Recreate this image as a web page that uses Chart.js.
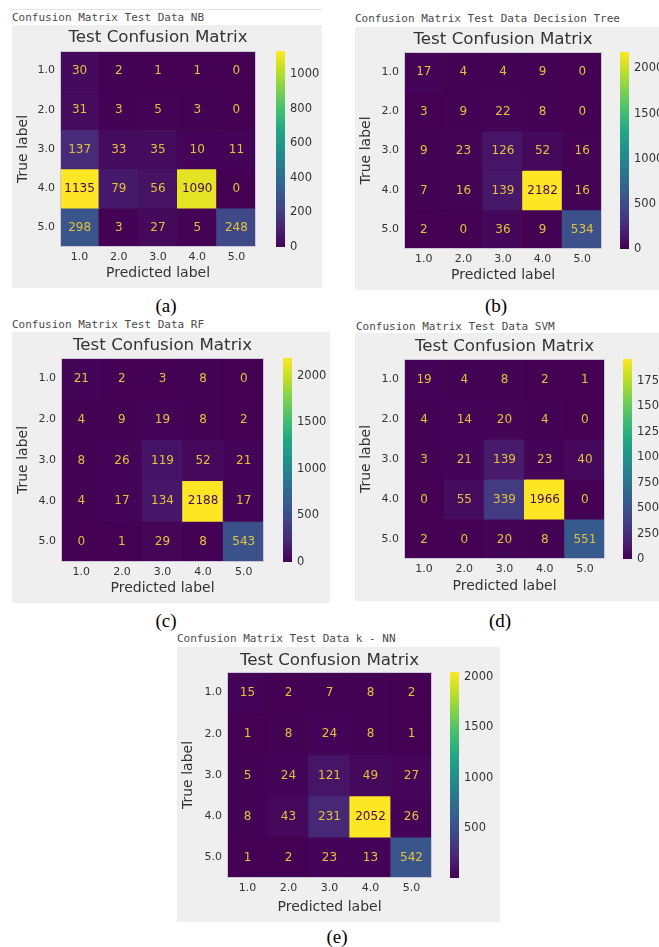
<!DOCTYPE html>
<html><head><meta charset="utf-8">
<script src="https://cdn.jsdelivr.net/npm/chart.js@4.4.1/dist/chart.umd.min.js"></script>
<style>
html,body{margin:0;padding:0;background:#fff;}
body{width:659px;height:947px;position:relative;overflow:hidden;}
.box{position:absolute;background:#efefef;}
.cap{position:absolute;font:11px "DejaVu Sans Mono",monospace;color:#4a4a4a;white-space:nowrap;line-height:13px;}
.sub{position:absolute;font:19px "Liberation Serif","Times New Roman",serif;color:#000;transform:translateX(-50%);line-height:20px;white-space:nowrap;}
.rule{position:absolute;height:1px;background:#e4e4e4;}
canvas{position:absolute;}
</style></head><body>
<script>
// ---------- data ----------
const predictedLabels = ['1.0','2.0','3.0','4.0','5.0'];
const trueLabels = ['1.0','2.0','3.0','4.0','5.0'];

const nbMatrix  = [[30,2,1,1,0],[31,3,5,3,0],[137,33,35,10,11],[1135,79,56,1090,0],[298,3,27,5,248]];
const dtMatrix  = [[17,4,4,9,0],[3,9,22,8,0],[9,23,126,52,16],[7,16,139,2182,16],[2,0,36,9,534]];
const rfMatrix  = [[21,2,3,8,0],[4,9,19,8,2],[8,26,119,52,21],[4,17,134,2188,17],[0,1,29,8,543]];
const svmMatrix = [[19,4,8,2,1],[4,14,20,4,0],[3,21,139,23,40],[0,55,339,1966,0],[2,0,20,8,551]];
const knnMatrix = [[15,2,7,8,2],[1,8,24,8,1],[5,24,121,49,27],[8,43,231,2052,26],[1,2,23,13,542]];

const nbTicks  = [0,200,400,600,800,1000];
const dtTicks  = [0,500,1000,1500,2000];
const rfTicks  = [0,500,1000,1500,2000];
const svmTicks = [0,250,500,750,1000,1250,1500,1750];
const knnTicks = [500,1000,1500,2000];

const captions = ['Confusion Matrix Test Data NB','Confusion Matrix Test Data Decision Tree','Confusion Matrix Test Data RF','Confusion Matrix Test Data SVM','Confusion Matrix Test Data k - NN'];
const subLabels = ['(a)','(b)','(c)','(d)','(e)'];
const chartTitle = 'Test Confusion Matrix';
const xTitle = 'Predicted label';
const yTitle = 'True label';

// ---------- layout (positions only) ----------
const layouts = [
 {box:[12,25,310,263], heat:[60,51,196,196], cbar:[276,51,9,196], titleY:38, cap:[12,17], sub:[166,306]},
 {box:[355,27,304,263], heat:[404,52,198,197], cbar:[620,52,9,197], titleY:40, cap:[355,18], sub:[496,306]},
 {box:[12,332,318,271], heat:[61,358,203,204], cbar:[283,358,9,204], titleY:346, cap:[12,324], sub:[166,621]},
 {box:[355,333,304,268], heat:[404,359,201,200], cbar:[623,359,9,200], titleY:347, cap:[356,326], sub:[500,621]},
 {box:[177,647,323,275], heat:[227,672,205,206], cbar:[450,672,9,206], titleY:661, cap:[177,638], sub:[337,937]}
];
const panels = [
 {m:nbMatrix, t:nbTicks}, {m:dtMatrix, t:dtTicks}, {m:rfMatrix, t:rfTicks}, {m:svmMatrix, t:svmTicks}, {m:knnMatrix, t:knnTicks}
];

// ---------- colormap ----------
const VIRIDIS = ['#440154','#482475','#414487','#355f8d','#2a788e','#21918c','#22a884','#44bf70','#7ad151','#bddf26','#fde725'];
function hex2rgb(h){return [parseInt(h.slice(1,3),16),parseInt(h.slice(3,5),16),parseInt(h.slice(5,7),16)];}
function viridis(t){
  t = Math.max(0, Math.min(1, t));
  const s = t*10, i = Math.min(9, Math.floor(s)), f = s - i;
  const a = hex2rgb(VIRIDIS[i]), b = hex2rgb(VIRIDIS[i+1]);
  return 'rgb(' + a.map((c,k)=>Math.round(c + (b[k]-c)*f)).join(',') + ')';
}

const TXT = '#333333';
const SANS = '"DejaVu Sans", sans-serif';
const LOW_TXT = '#e2c23a', HIGH_TXT = '#46085c';

function addDiv(cls, text, x, y, w){
  const d = document.createElement('div'); d.className = cls;
  if (text !== null) d.textContent = text;
  d.style.left = x + 'px'; d.style.top = y + 'px';
  if (w) d.style.width = w + 'px';
  document.body.appendChild(d); return d;
}
function addCanvas(x, y, w, h){
  const c = document.createElement('canvas');
  c.width = w; c.height = h;
  c.style.left = x + 'px'; c.style.top = y + 'px';
  c.style.width = w + 'px'; c.style.height = h + 'px';
  document.body.appendChild(c); return c;
}

// top rule above first caption
addDiv('rule', null, 10, 9, 312);

layouts.forEach((L, p) => {
  const matrix = panels[p].m, cbTicks = panels[p].t;
  const [bx,by,bw,bh] = L.box, [hx,hy,hw,hh] = L.heat, [cx,cy,cw,ch] = L.cbar;
  const box = addDiv('box', null, bx, by, bw); box.style.height = bh + 'px';
  addDiv('cap', captions[p], L.cap[0], L.cap[1] - 6.5);
  addDiv('sub', subLabels[p], L.sub[0], L.sub[1] - 10);

  const flat = matrix.flat();
  const vmin = Math.min(...flat), vmax = Math.max(...flat);
  const thresh = (vmin + vmax) / 2;

  // ---- heatmap ----
  const W = hx + hw - bx, H = bh;
  const cv = addCanvas(bx, by, W, H);
  const titleSize = 16.7, titleLH = titleSize * 1.2;
  const tPadTop = L.titleY - by - titleLH/2;
  const tPadBot = (hy - by) - titleLH - tPadTop;
  const yW = hx - bx, xH = by + bh - (hy + hh);

  const datasets = matrix.map((row, r) => ({
    label: trueLabels[r],
    data: row.map(() => [r + 0.5, r + 1.5]),
    values: row,
    backgroundColor: row.map(v => viridis((v - vmin) / (vmax - vmin))),
    borderWidth: 0, barPercentage: 1, categoryPercentage: 1, inflateAmount: 0.6
  }));

  new Chart(cv, {
    type: 'bar',
    data: { labels: predictedLabels, datasets },
    options: {
      responsive: false, animation: false, devicePixelRatio: 1,
      layout: { padding: 0 },
      plugins: {
        legend: { display: false }, tooltip: { enabled: false },
        title: { display: true, text: chartTitle, fullSize: false, color: TXT,
                 font: { family: SANS, size: titleSize, weight: 'normal', lineHeight: 1.2 },
                 padding: { top: tPadTop, bottom: tPadBot } }
      },
      scales: {
        x: { type: 'category', stacked: true, offset: true,
             grid: { display: false, drawTicks: false }, border: { display: false },
             ticks: { color: TXT, font: { family: SANS, size: 11 }, padding: 4, maxRotation: 0 },
             title: { display: true, text: xTitle, color: TXT, font: { family: SANS, size: 14, lineHeight: 1.2 }, padding: { top: 0, bottom: 6 } },
             afterFit(s){ s.height = xH; } },
        y: { type: 'linear', stacked: false, min: 0.5, max: 5.5, reverse: true,
             grid: { display: false, drawTicks: false }, border: { display: false },
             afterBuildTicks(s){ s.ticks = trueLabels.map((_, i) => ({ value: i + 1 })); },
             ticks: { color: TXT, font: { family: SANS, size: 11 }, padding: 5,
                      callback: v => trueLabels[Math.round(v) - 1] },
             title: { display: true, text: yTitle, color: TXT, font: { family: SANS, size: 14, lineHeight: 1.2 }, padding: { top: 3, bottom: 0 } },
             afterFit(s){ s.width = yW; } }
      }
    },
    plugins: [{
      id: 'cellText',
      afterDatasetsDraw(chart){
        const ctx = chart.ctx; ctx.save();
        ctx.font = '12px ' + SANS; ctx.textAlign = 'center'; ctx.textBaseline = 'middle';
        chart.data.datasets.forEach((ds, di) => {
          chart.getDatasetMeta(di).data.forEach((el, i) => {
            const v = ds.values[i];
            ctx.fillStyle = v > thresh ? HIGH_TXT : LOW_TXT;
            ctx.fillText(String(v), el.x, (el.y + el.base) / 2 + 0.5);
          });
        });
        const a = chart.chartArea;
        ctx.strokeStyle = '#cdc6d8'; ctx.lineWidth = 1;
        ctx.strokeRect(Math.round(a.left) + 0.5, Math.round(a.top) + 0.5, Math.round(a.width) - 1, Math.round(a.height) - 1);
        ctx.restore();
      }
    }]
  });

  // ---- colorbar ----
  const CW = bx + bw - cx;
  const cc = addCanvas(cx, by, CW, bh);
  new Chart(cc, {
    type: 'bar',
    data: { labels: [''], datasets: [{
      data: [[vmin, vmax]],
      backgroundColor: c => {
        const a = c.chart.chartArea; if (!a) return VIRIDIS[0];
        const g = c.chart.ctx.createLinearGradient(0, a.bottom, 0, a.top);
        VIRIDIS.forEach((col, i) => g.addColorStop(i / 10, col));
        return g;
      },
      borderWidth: 0, barPercentage: 1, categoryPercentage: 1
    }]},
    options: {
      responsive: false, animation: false, devicePixelRatio: 1,
      layout: { padding: { top: cy - by, bottom: by + bh - (cy + ch), left: 0, right: 0 } },
      plugins: { legend: { display: false }, tooltip: { enabled: false } },
      scales: {
        x: { display: false },
        y: { position: 'right', min: vmin, max: vmax,
             grid: { display: false, drawTicks: false }, border: { display: false },
             afterBuildTicks(s){ s.ticks = cbTicks.map(v => ({ value: v })); },
             ticks: { color: TXT, font: { family: SANS, size: 11.5 }, padding: 5, autoSkip: false,
                      callback: v => String(v) },
             afterFit(s){ s.width = CW - cw; } }
      }
    }
  });
});
</script></body></html>
